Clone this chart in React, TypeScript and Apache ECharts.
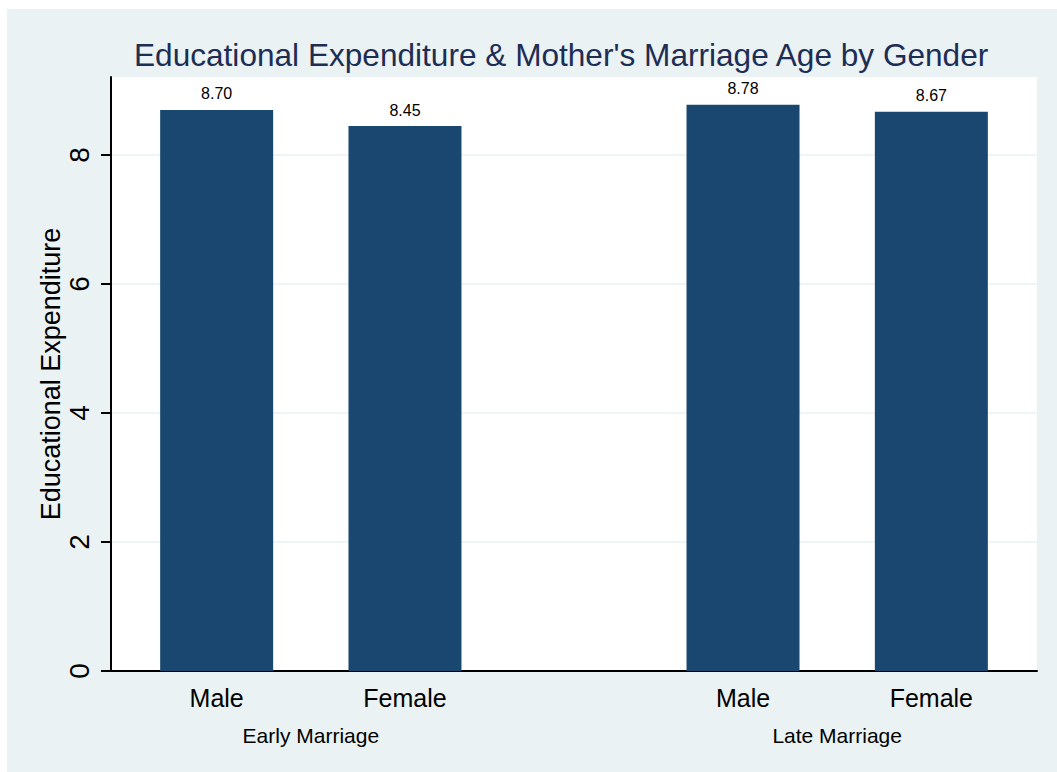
import React, { useEffect, useRef } from "react";
import * as echarts from "echarts";

const titleText = "Educational Expenditure & Mother's Marriage Age by Gender";
const yAxisTitle = "Educational Expenditure";
const groups = ["Early Marriage", "Late Marriage"];
const genders = ["Male", "Female"];
const earlyValues = [8.7, 8.45];
const lateValues = [8.78, 8.67];
const yTicks = [0, 2, 4, 6, 8];

const FONT = "'Liberation Sans', Arial, sans-serif";
const GROUP_STEP = 2.795;
const X_PAD = 0.561;
const Y_MAX = 9.21;

export default function App() {
  const ref = useRef<HTMLDivElement>(null);
  useEffect(() => {
    if (!ref.current) return;
    const chart = echarts.init(ref.current, undefined, { renderer: "svg" });
    const groupValues = [earlyValues, lateValues];
    const positions: number[] = [];
    const labels: string[] = [];
    const barData: number[][] = [];
    groups.forEach((g, gi) => {
      genders.forEach((s, si) => {
        const x = gi * GROUP_STEP + si;
        positions.push(x);
        labels.push(s);
        barData.push([x, groupValues[gi][si]]);
      });
    });
    const groupCenters = groups.map((_, gi) => gi * GROUP_STEP + (genders.length - 1) / 2);
    const xMin = -X_PAD;
    const xMax = (groups.length - 1) * GROUP_STEP + (genders.length - 1) + X_PAD;
    const find = (arr: number[], v: number) => arr.findIndex((p) => Math.abs(p - v) < 1e-6);

    chart.setOption({
      animation: false,
      backgroundColor: "#ffffff",
      graphic: [
        {
          type: "rect",
          z: -10,
          silent: true,
          shape: { x: 7, y: 9, width: 1050, height: 763 },
          style: { fill: "#EAF2F3" },
        },
      ],
      title: {
        text: titleText,
        left: 134,
        top: 39,
        padding: 0,
        textStyle: { fontFamily: FONT, fontSize: 31.6, fontWeight: "normal", color: "#1E2D53" },
      },
      grid: {
        left: 111,
        right: 20,
        top: 77,
        bottom: 101,
        show: true,
        backgroundColor: "#ffffff",
        borderWidth: 0,
        containLabel: false,
      },
      xAxis: [
        {
          type: "value",
          position: "bottom",
          min: xMin,
          max: xMax,
          axisLine: { show: true, onZero: false, lineStyle: { color: "#000000", width: 2 } },
          axisTick: { show: false },
          splitLine: { show: false },
          axisLabel: {
            customValues: positions,
            margin: 14,
            fontFamily: FONT,
            fontSize: 25,
            color: "#000000",
            formatter: (v: number) => {
              const i = find(positions, v);
              return i >= 0 ? labels[i] : "";
            },
          },
        },
        {
          type: "value",
          position: "bottom",
          min: xMin,
          max: xMax,
          axisLine: { show: false, onZero: false },
          axisTick: { show: false },
          splitLine: { show: false },
          axisLabel: {
            customValues: groupCenters,
            margin: 54,
            fontFamily: FONT,
            fontSize: 21,
            color: "#000000",
            formatter: (v: number) => {
              const i = find(groupCenters, v);
              return i >= 0 ? groups[i] : "";
            },
          },
        },
      ],
      yAxis: {
        type: "value",
        min: 0,
        max: Y_MAX,
        interval: 2,
        name: yAxisTitle,
        nameLocation: "middle",
        nameGap: 47,
        nameMoveOverlap: false,
        nameTextStyle: { fontFamily: FONT, fontSize: 27, color: "#000000" },
        axisLine: { show: true, onZero: false, lineStyle: { color: "#000000", width: 2 } },
        axisTick: {
          show: true,
          length: 10,
          customValues: yTicks,
          lineStyle: { color: "#000000", width: 2 },
        },
        axisLabel: {
          customValues: yTicks,
          rotate: 90,
          margin: 18,
          fontFamily: FONT,
          fontSize: 28,
          color: "#000000",
        },
        splitLine: { show: true, lineStyle: { color: "#EAF2F3", width: 1.5 } },
      },
      series: [
        {
          type: "bar",
          xAxisIndex: 0,
          data: barData,
          barWidth: 113,
          itemStyle: { color: "#1A476F" },
          label: {
            show: true,
            position: "top",
            distance: 8,
            fontFamily: FONT,
            fontSize: 16,
            color: "#000000",
            formatter: (p: any) => Number(p.value[1]).toFixed(2),
          },
        },
      ],
    });
    return () => chart.dispose();
  }, []);
  return (
    <div
      ref={ref}
      style={{ position: "fixed", left: 0, top: 0, width: 1057, height: 772, background: "#ffffff" }}
    />
  );
}
